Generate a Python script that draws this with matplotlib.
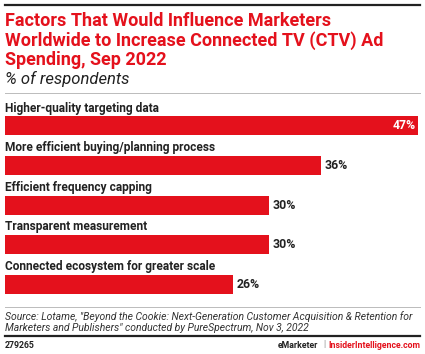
import matplotlib.pyplot as plt
from matplotlib.lines import Line2D

plt.rcParams['font.family'] = ['Roboto', 'DejaVu Sans']

W, H = 425, 354
red = '#e4111c'

title = ('Factors That Would Influence Marketers\n'
         'Worldwide to Increase Connected TV (CTV) Ad\n'
         'Spending, Sep 2022')
subtitle = '% of respondents'
factors = ['Higher-quality targeting data',
           'More efficient buying/planning process',
           'Efficient frequency capping',
           'Transparent measurement',
           'Connected ecosystem for greater scale']
values = [47, 36, 30, 30, 26]
source = ('Source: Lotame, "Beyond the Cookie: Next-Generation Customer Acquisition & Retention for\n'
          'Marketers and Publishers" conducted by PureSpectrum, Nov 3, 2022')
chart_id = '279265'


def fy(py):
    return 1 - py / H


def fx(px):
    return px / W


fig = plt.figure(figsize=(W / 100, H / 100), dpi=100)

# rules
fig.add_artist(Line2D([fx(5), fx(420)], [fy(5), fy(5)], color='#222222', lw=1.6))
fig.add_artist(Line2D([fx(5), fx(420)], [fy(93), fy(93)], color='#bbbbbb', lw=0.7))
fig.add_artist(Line2D([fx(5), fx(420)], [fy(307), fy(307)], color='#bbbbbb', lw=0.7))
fig.add_artist(Line2D([fx(5), fx(420)], [fy(336), fy(336)], color='#222222', lw=1.6))

fig.text(fx(5), fy(40.5), title, color=red, fontsize=13, fontweight='bold',
         va='center', ha='left', linespacing=1.1)
fig.text(fx(5), fy(79), subtitle, color='#222222', fontsize=12, style='italic',
         va='center', ha='left')

ax = fig.add_axes([fx(5), fy(300), fx(418) - fx(5), (300 - 97) / H])
pos = list(range(len(factors)))
ax.barh(pos, values, height=0.48, color=red, edgecolor='none')
ax.set_xlim(0, 47)
ax.set_ylim(4.4, -0.73)
ax.axis('off')

for i, (f, v) in enumerate(zip(factors, values)):
    ax.text(0, i - 0.45, f, fontsize=8.6, fontweight='bold', color='#222222',
            va='center', ha='left')
    if i == 0:
        ax.text(v - 0.25, i, f'{v}%', fontsize=8.8, fontweight='bold', color='white',
                va='center', ha='right')
    else:
        ax.text(v + 0.4, i, f'{v}%', fontsize=8.8, fontweight='bold', color='#222222',
                va='center', ha='left')

fig.text(fx(5), fy(322), source, color='#333333', fontsize=7.5, style='italic',
         va='center', ha='left', linespacing=1.2)

fig.text(fx(5), fy(345), chart_id, color='#222222', fontsize=6.3, fontweight='bold',
         va='center', ha='left')
fig.text(fx(420), fy(345), 'InsiderIntelligence.com', color=red, fontsize=6.3,
         fontweight='bold', va='center', ha='right')
fig.text(fx(324.5), fy(345), '|', color='#888888', fontsize=6.3, va='center', ha='center')
fig.text(fx(318.5), fy(345), 'eMarketer', color='#222222', fontsize=6.3, fontweight='bold',
         va='center', ha='right')

fig.savefig('out.png', dpi=100)
plt.close(fig)
